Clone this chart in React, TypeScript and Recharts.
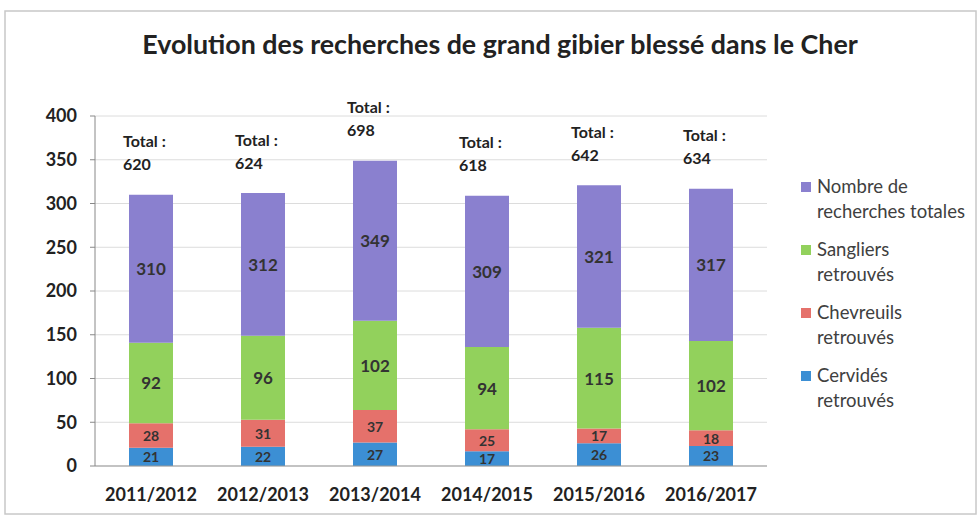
import React from 'react';
import { BarChart, Bar, XAxis, YAxis, CartesianGrid, LabelList, Legend } from 'recharts';

const categories = ['2011/2012', '2012/2013', '2013/2014', '2014/2015', '2015/2016', '2016/2017'];
const cervides = [21, 22, 27, 17, 26, 23];
const chevreuils = [28, 31, 37, 25, 17, 18];
const sangliers = [92, 96, 102, 94, 115, 102];
const nombre = [310, 312, 349, 309, 321, 317];
const totals = [620, 624, 698, 618, 642, 634];
const yTicks = [0, 50, 100, 150, 200, 250, 300, 350, 400];

const title = 'Evolution des recherches de grand gibier blessé dans le Cher';

const COLORS = {
  nombre: '#8a80cf',
  sangliers: '#92d15c',
  chevreuils: '#e5716b',
  cervides: '#3c8fd4',
};

const legendItems = [
  { key: 'nombre', lines: ['Nombre de', 'recherches totales'] },
  { key: 'sangliers', lines: ['Sangliers', 'retrouvés'] },
  { key: 'chevreuils', lines: ['Chevreuils', 'retrouvés'] },
  { key: 'cervides', lines: ['Cervidés', 'retrouvés'] },
];

const data = categories.map((c, i) => ({
  cat: c,
  cervides: cervides[i],
  chevreuils: chevreuils[i],
  sangliers: sangliers[i],
  nombre: nombre[i],
  reste: nombre[i] - (cervides[i] + chevreuils[i] + sangliers[i]),
  total: totals[i],
}));

const FONT = 'Lato, "Liberation Sans", sans-serif';

const TotalLabel = (props: any) => {
  const { x, y, value } = props;
  return (
    <g>
      <text x={x - 6} y={y - 54} dominantBaseline="central" fontFamily={FONT} fontWeight={700} fontSize={16} fill="#222">
        Total :
      </text>
      <text x={x - 6} y={y - 31} dominantBaseline="central" fontFamily={FONT} fontWeight={700} fontSize={16} fill="#222">
        {value}
      </text>
    </g>
  );
};

const makeValueLabel = (size: number) => (props: any) => {
  const { x, y, width, height, value } = props;
  return (
    <text
      x={x + width / 2}
      y={y + height / 2}
      textAnchor="middle"
      dominantBaseline="central"
      fontFamily={FONT}
      fontWeight={700}
      fontSize={size}
      fill="#333"
    >
      {value}
    </text>
  );
};

const BigLabel = makeValueLabel(17);
const SmallLabel = makeValueLabel(14);

const renderLegend = () => (
  <div style={{ fontFamily: FONT, fontSize: 18.5, color: '#404040' }}>
    {legendItems.map((it) => (
      <div key={it.key} style={{ position: 'relative', height: 63 }}>
        <div
          style={{
            position: 'absolute',
            left: 6,
            top: 8,
            width: 10,
            height: 10,
            background: (COLORS as any)[it.key],
          }}
        />
        <div style={{ position: 'absolute', left: 22, top: 0, lineHeight: '25px', whiteSpace: 'nowrap' }}>
          {it.lines.map((l) => (
            <div key={l}>{l}</div>
          ))}
        </div>
      </div>
    ))}
  </div>
);

export default function App() {
  return (
    <div style={{ position: 'absolute', left: 0, top: 0, width: 979, height: 517, background: '#fff' }}>
      <BarChart
        width={979}
        height={517}
        data={data}
        margin={{ top: 116, right: 212, left: 0, bottom: 0 }}
        barSize={44}
      >
        <rect x={5} y={11} width={971} height={503} fill="none" stroke="#c8c8c8" strokeWidth={1.5} />
        <text
          x={500}
          y={54}
          textAnchor="middle"
          fontFamily={FONT}
          fontWeight={700}
          fontSize={26.8}
          fill="#222"
        >
          {title}
        </text>
        <CartesianGrid vertical={false} stroke="#dcdcdc" />
        <XAxis
          dataKey="cat"
          height={51}
          tickLine={false}
          axisLine={{ stroke: '#999' }}
          tickMargin={16}
          tick={{ fontFamily: FONT, fontWeight: 700, fontSize: 18, fill: '#222' }}
        />
        <YAxis
          width={95}
          domain={[0, 400]}
          ticks={yTicks}
          tickSize={5}
          tickMargin={13}
          tickLine={{ stroke: '#888' }}
          axisLine={{ stroke: '#888' }}
          tick={{ fontFamily: FONT, fontWeight: 700, fontSize: 18, fill: '#222' }}
          interval={0}
        />
        <Legend
          layout="vertical"
          align="center"
          verticalAlign="middle"
          wrapperStyle={{ left: 795, top: 174, width: 184 }}
          content={renderLegend}
        />
        <Bar dataKey="cervides" stackId="a" fill={COLORS.cervides} isAnimationActive={false}>
          <LabelList dataKey="cervides" content={SmallLabel} />
        </Bar>
        <Bar dataKey="chevreuils" stackId="a" fill={COLORS.chevreuils} isAnimationActive={false}>
          <LabelList dataKey="chevreuils" content={SmallLabel} />
        </Bar>
        <Bar dataKey="sangliers" stackId="a" fill={COLORS.sangliers} isAnimationActive={false}>
          <LabelList dataKey="sangliers" content={BigLabel} />
        </Bar>
        <Bar dataKey="reste" stackId="a" fill={COLORS.nombre} isAnimationActive={false}>
          <LabelList dataKey="nombre" content={BigLabel} />
          <LabelList dataKey="total" content={TotalLabel} />
        </Bar>
      </BarChart>
    </div>
  );
}
